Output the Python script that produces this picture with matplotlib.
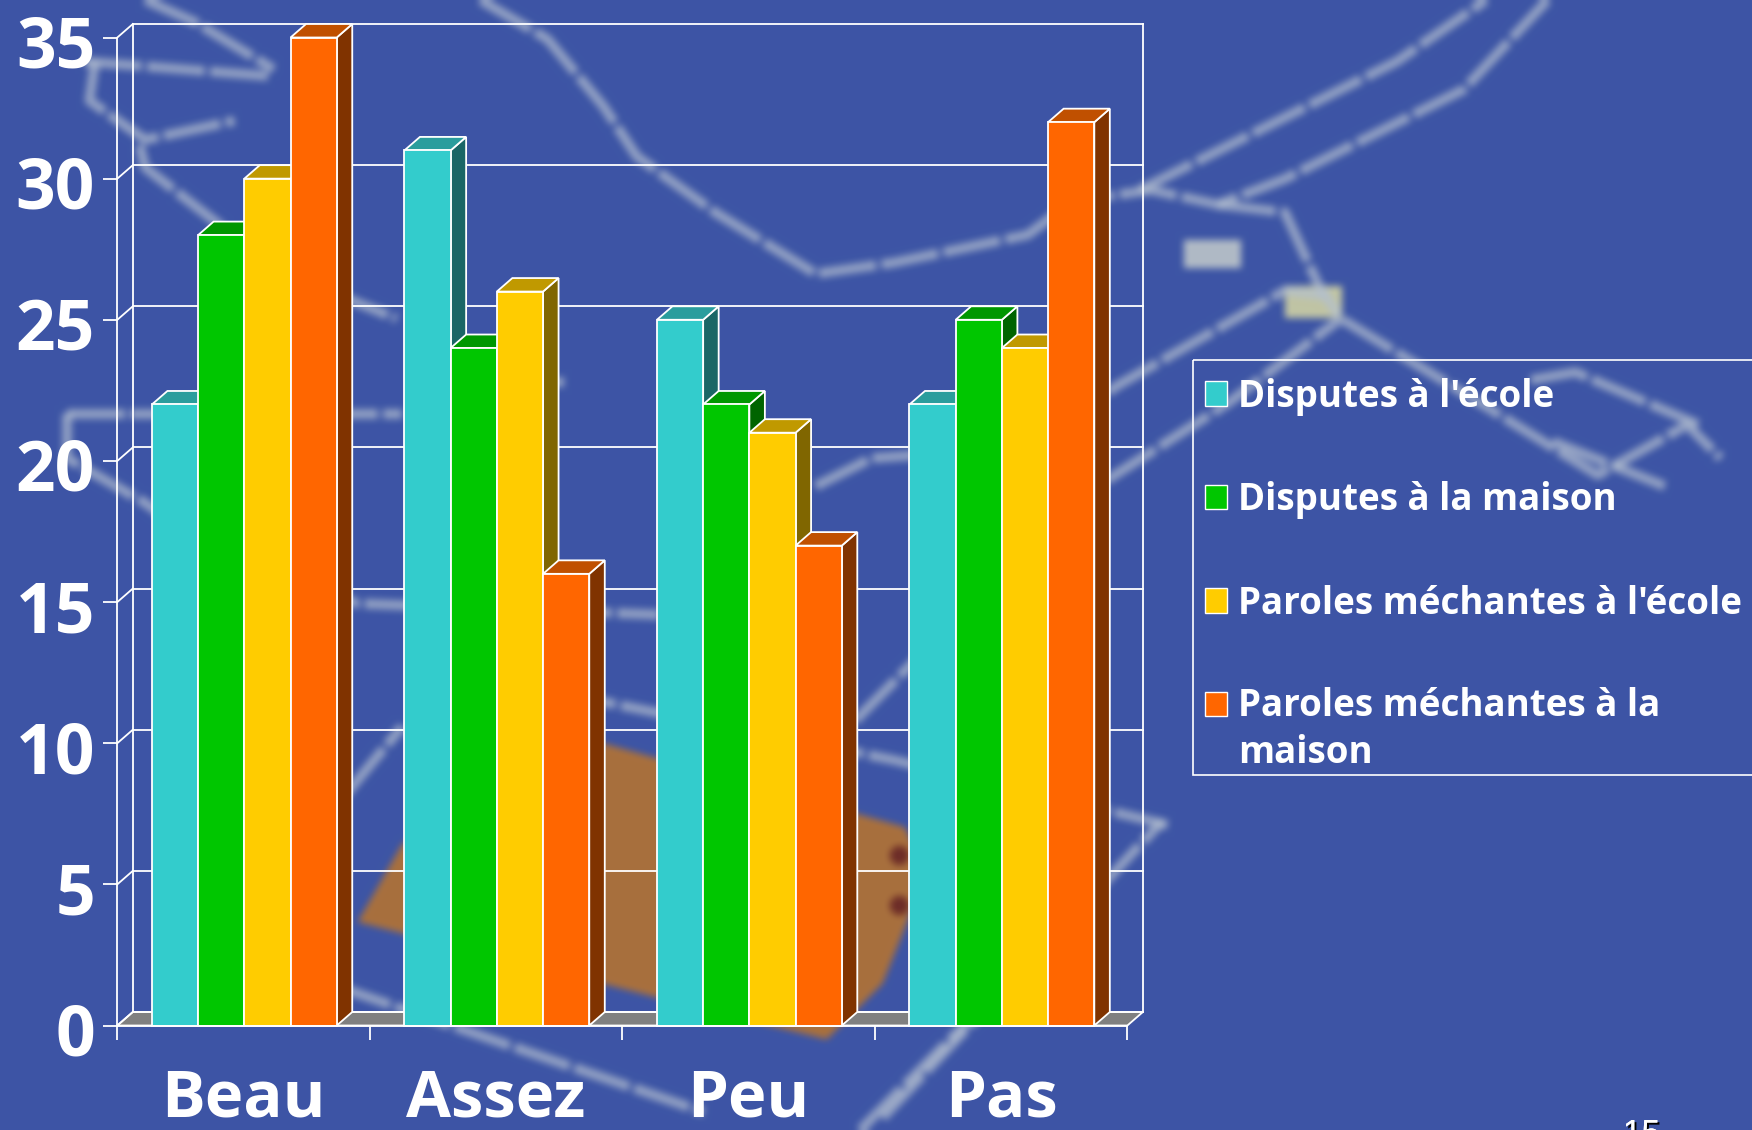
import numpy as np
import matplotlib
matplotlib.use("Agg")
import matplotlib.pyplot as plt
from matplotlib.patches import Polygon, Rectangle
from matplotlib.transforms import ScaledTranslation
import matplotlib.patheffects as pe

plt.rcParams['font.family'] = ['Open Sans', 'DejaVu Sans']

# ---------------- Data ---------------- #
categories = ['Beau', 'Assez', 'Peu', 'Pas']
series_names = ["Disputes à l'école", "Disputes à la maison",
                "Paroles méchantes à l'école", "Paroles méchantes à la\nmaison"]
disputes_ecole = [22, 31, 25, 22]
disputes_maison = [28, 24, 22, 25]
paroles_ecole = [30, 26, 21, 24]
paroles_maison = [35, 16, 17, 32]
series_values = [disputes_ecole, disputes_maison, paroles_ecole, paroles_maison]
y_ticks = [0, 5, 10, 15, 20, 25, 30, 35]

# ---------------- Style ---------------- #
FRONT = ['#33CCCC', '#00C600', '#FFCC00', '#FF6600']
TOP = ['#2A9D9D', '#009700', '#C09900', '#C05000']
SIDE = ['#1A6666', '#006400', '#806600', '#803300']
BG = '#3D55A5'
W, H = 1752, 1130

# front plot box in pixels
X0, X1 = 117.3, 1127.4
Y0, Y35 = 1025.5, 37.5
DX = 15.5 / ((X1 - X0) / 4)  # 3d depth, in data units
DY = 13.5 / ((Y0 - Y35) / 35)
BAR_W = 0.183
GROUP_OFF = 0.137

# ---------------- Blurred map behind the chart ---------------- #
map_lines = [
    [(430, 0), (490, 35), (540, 95), (570, 140), (640, 190), (730, 245), (800, 235),
     (920, 210), (960, 180), (1030, 170), (1090, 183), (1150, 160), (1310, 80), (1385, 0)],
    [(1020, 170), (1140, 110), (1250, 55), (1330, 0)],
    [(1090, 183), (1150, 190), (1180, 255), (1200, 285), (1340, 370), (1430, 425),
     (1510, 380), (1540, 410)],
    [(1370, 340), (1410, 333), (1520, 380)],
    [(1390, 395), (1490, 435)],
    [(730, 435), (780, 410), (920, 400), (1000, 345), (1150, 260), (1190, 265)],
    [(990, 430), (1100, 360), (1200, 285)],
    [(130, 0), (175, 20), (245, 62)],
    [(75, 55), (240, 68)],
    [(85, 55), (80, 90), (130, 125), (210, 108)],
    [(125, 130), (130, 150), (195, 200), (230, 235), (355, 285)],
    [(60, 370), (360, 370)],
    [(60, 370), (60, 410), (130, 450), (200, 500), (320, 540), (590, 550)],
    [(500, 620), (600, 640), (800, 680), (1045, 738)],
    [(310, 710), (360, 650)],
    [(300, 882), (630, 995)],
    [(770, 1011), (880, 900)],
    [(765, 645), (850, 560)],
    [(790, 1000), (1040, 735)],
    [(430, 340), (505, 342)],
]
brown_patch = [(360, 755), (540, 665), (810, 740), (830, 780), (790, 880), (740, 930),
               (590, 893), (320, 825)]

back = plt.figure(figsize=(W / 100, H / 100), dpi=100, facecolor=BG)
bax = back.add_axes([0, 0, 1, 1])
bax.set_xlim(0, 1568)
bax.set_ylim(1011, 0)
bax.axis('off')
bax.add_patch(Polygon(brown_patch, facecolor='#A8703E', edgecolor='none'))
bax.plot([805, 805], [765, 810], 'o', color='#6E2E28', ms=13)
for line in map_lines:
    bax.plot([p[0] for p in line], [p[1] for p in line], color='#B4C0D0', lw=7,
             alpha=0.7, dashes=(6, 0.5), solid_joinstyle='round')
bax.add_patch(Rectangle((1060, 215), 50, 24, color='#B0BAC6'))
bax.add_patch(Rectangle((1150, 256), 50, 28, color='#C0C4A4'))
back.canvas.draw()
img = np.asarray(back.canvas.buffer_rgba())[:, :, :3].astype(float)
plt.close(back)


def blur(a, r):
    # box blur along both axes
    k = np.ones(2 * r + 1) / (2 * r + 1)
    for axis in (0, 1):
        a = np.apply_along_axis(lambda m: np.convolve(np.pad(m, r, mode='edge'), k, mode='valid'), axis, a)
    return a


img = blur(blur(img, 4), 3)

fig = plt.figure(figsize=(W / 100, H / 100), dpi=100, facecolor=BG)
bg = fig.add_axes([0, 0, 1, 1], zorder=0)
bg.imshow(img / 255, extent=(0, 1568, 1011, 0), aspect='auto', interpolation='bilinear')
bg.set_xlim(0, 1568)
bg.set_ylim(1011, 0)
bg.axis('off')

# ---------------- Legend ---------------- #
bg.add_patch(Rectangle((1068, 322), 520, 371, facecolor='none', edgecolor='white',
                       lw=1.2, zorder=5))
legend_y = [352, 444.5, 537, 630]
for color, name, yc in zip(FRONT, series_names, legend_y):
    bg.add_patch(Rectangle((1078, yc - 11), 20, 22, facecolor=color, edgecolor='white',
                           lw=1.0, zorder=6))
    bg.text(1108, yc - 15 if '\n' in name else yc + 3, name, color='white', fontsize=26.5,
            fontweight='bold', va='top' if '\n' in name else 'center', ha='left',
            linespacing=1.3, zorder=6)

# ---------------- Chart ---------------- #
ax = fig.add_axes([X0 / W, 1 - Y0 / H, (X1 - X0) / W, (Y0 - Y35) / H], zorder=2)
ax.patch.set_visible(False)
ax.set_xlim(0, 4)
ax.set_ylim(0, 35)

for s in ['top', 'right']:
    ax.spines[s].set_visible(False)
for s in ['left', 'bottom']:
    ax.spines[s].set_color('white')
    ax.spines[s].set_linewidth(1.3)
    ax.spines[s].set_zorder(50)

ax.set_yticks(y_ticks)
ax.set_yticklabels([str(v) for v in y_ticks], fontsize=50, fontweight='bold', color='white')
ax.tick_params(axis='y', colors='white', length=10, width=1.3, pad=6)
label_shift = ScaledTranslation(0, -2.5 / 72, fig.dpi_scale_trans)
for lab in ax.get_yticklabels():
    lab.set_transform(lab.get_transform() + label_shift)
ax.set_xticks([i + 0.5 for i in range(len(categories))])
ax.set_xticklabels(categories, fontsize=47, fontweight='bold', color='white')
ax.tick_params(axis='x', which='major', length=0, pad=30)
ax.set_xticks(range(len(categories) + 1), minor=True)
ax.tick_params(axis='x', which='minor', colors='white', length=10, width=1.3)

# back walls
wall = dict(color='white', lw=1.3, zorder=1, clip_on=False)
ax.add_patch(Polygon([(0, 0), (DX, DY), (4 + DX, DY), (4, 0)], facecolor='#808080',
                     edgecolor='white', lw=1.3, zorder=1, clip_on=False))
for v in y_ticks:
    ax.plot([DX, 4 + DX], [v + DY, v + DY], **wall)
    ax.plot([0, DX], [v, v + DY], **wall)
ax.plot([DX, DX], [DY, 35 + DY], **wall)
ax.plot([4 + DX, 4 + DX], [DY, 35 + DY], **wall)

# bars, drawn left to right so that each covers the side of the one before
z = 10
for c in range(len(categories)):
    for k, values in enumerate(series_values):
        v = values[c]
        x = c + GROUP_OFF + k * BAR_W
        ax.add_patch(Polygon([(x + BAR_W, 0), (x + BAR_W + DX, DY), (x + BAR_W + DX, v + DY),
                              (x + BAR_W, v)], facecolor=SIDE[k], edgecolor='white', lw=1.3,
                             zorder=z, clip_on=False))
        ax.add_patch(Polygon([(x, v), (x + DX, v + DY), (x + BAR_W + DX, v + DY), (x + BAR_W, v)],
                             facecolor=TOP[k], edgecolor='white', lw=1.3, zorder=z, clip_on=False))
        ax.bar(x, v, BAR_W, align='edge', color=FRONT[k], edgecolor='white', lw=1.3,
               zorder=z + 1, clip_on=False)
        z += 2

# slide number, cut by the bottom edge
t = fig.text(1623 / W, 1 - 1119 / H, '15', color='white', fontsize=24, family='Liberation Sans',
             va='top', ha='left', zorder=3)
t.set_path_effects([pe.withSimplePatchShadow(offset=(1.5, -1.5), shadow_rgbFace='black', alpha=1),
                    pe.Normal()])

fig.savefig('out.png', dpi=100, facecolor=BG)
